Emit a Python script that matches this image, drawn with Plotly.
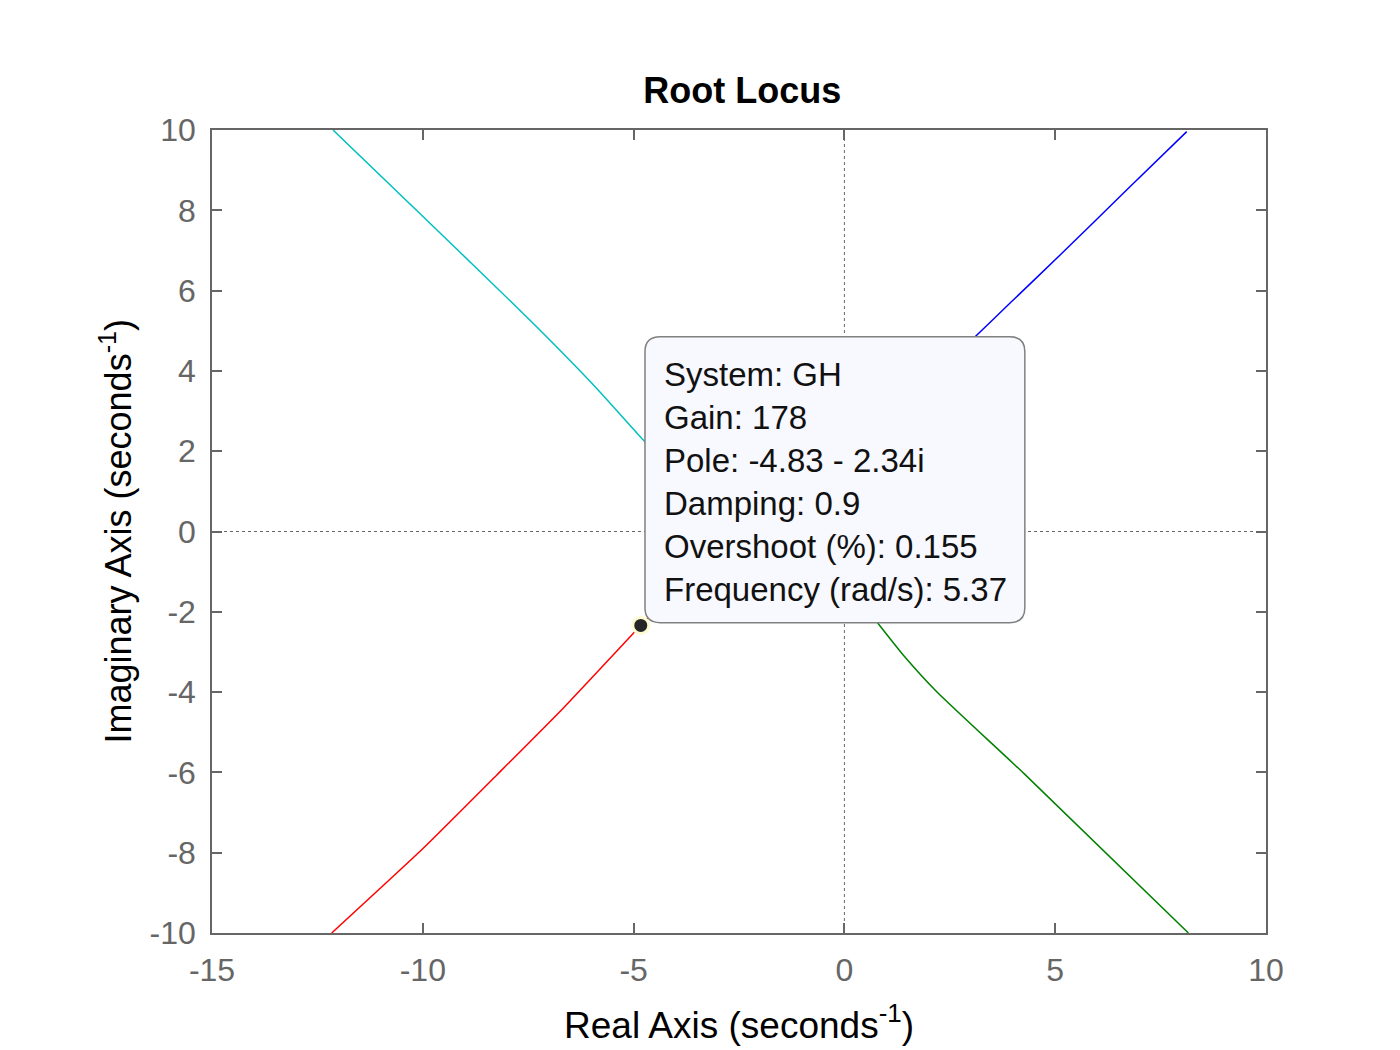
import plotly.graph_objects as go

# ---- data (root-locus branches) ----
cyan_re = [-12.13, -9.99, -8.56, -7.30, -5.88, -4.77, -4.55]
cyan_im = [10.0, 7.84, 6.39, 5.10, 3.57, 2.28, 2.05]

red_re = [-12.16, -9.99, -8.25, -6.67, -5.01, -4.83, -4.60]
red_im = [-10.0, -7.89, -6.07, -4.40, -2.54, -2.34, -2.10]

blue_re = [8.12, 6.70, 5.11, 3.93, 3.10, 2.90]
blue_im = [9.96, 8.51, 6.88, 5.69, 4.85, 4.64]

green_re = [8.16, 4.28, 2.19, 1.40, 0.77, 0.60]
green_im = [-10.0, -6.05, -3.99, -3.08, -2.25, -2.02]

# selected pole (data tip)
pole_re = [-4.83]
pole_im = [-2.34]
system_name = "GH"
gain = 178
damping = 0.9
overshoot = 0.155
frequency = 5.37

x_ticks = [-15, -10, -5, 0, 5, 10]
y_ticks = [-10, -8, -6, -4, -2, 0, 2, 4, 6, 8, 10]

FONT = "Liberation Sans, Arial, Helvetica, sans-serif"
AX = "#666666"

fig = go.Figure()
for xs, ys, col in [(cyan_re, cyan_im, "#00BFBF"), (red_re, red_im, "#FF0000"),
                    (blue_re, blue_im, "#0000FF"), (green_re, green_im, "#008000")]:
    fig.add_trace(go.Scatter(x=xs, y=ys, mode="lines",
                             line=dict(color=col, width=1.5, shape="spline", smoothing=0.5),
                             hoverinfo="skip", showlegend=False))

fig.add_trace(go.Scatter(x=pole_re, y=pole_im, mode="markers",
                         marker=dict(color="#262626", size=16,
                                     line=dict(color="#FFFBD0", width=3)),
                         hoverinfo="skip", showlegend=False))

# dotted zero lines
fig.add_shape(type="line", x0=0, x1=0, y0=-10, y1=10, xref="x", yref="y",
              line=dict(color="#666666", width=1, dash="dot"), layer="below")
fig.add_shape(type="line", x0=-15, x1=10, y0=0, y1=0, xref="x", yref="y",
              line=dict(color="#666666", width=1, dash="dot"), layer="below")

# data tip box (rounded rectangle)
bx0, bx1, by0, by1 = -4.73, 4.28, -2.27, 4.85
rx, ry = 0.36, 0.37
path = (f"M {bx0+rx},{by1} L {bx1-rx},{by1} Q {bx1},{by1} {bx1},{by1-ry} "
        f"L {bx1},{by0+ry} Q {bx1},{by0} {bx1-rx},{by0} "
        f"L {bx0+rx},{by0} Q {bx0},{by0} {bx0},{by0+ry} "
        f"L {bx0},{by1-ry} Q {bx0},{by1} {bx0+rx},{by1} Z")
fig.add_shape(type="path", path=path, xref="x", yref="y",
              fillcolor="#F8F8FF", line=dict(color="#808080", width=1.5),
              layer="above")

im_sign = "-" if pole_im[0] < 0 else "+"
tip_lines = [
    f"System: {system_name}",
    f"Gain: {gain}",
    f"Pole: {pole_re[0]:.2f} {im_sign} {abs(pole_im[0]):.2f}i",
    f"Damping: {damping}",
    f"Overshoot (%): {overshoot}",
    f"Frequency (rad/s): {frequency}",
]
fig.add_annotation(x=-4.33, y=1.23, xref="x", yref="y", text="<br>".join(tip_lines),
                   showarrow=False, xanchor="left", yanchor="middle", align="left",
                   font=dict(family=FONT, size=33, color="#111111"))

# axis titles
fig.add_annotation(x=0.5, y=-0.111, xref="paper", yref="paper",
                   text="Real Axis (seconds<sup>-1</sup>)", showarrow=False,
                   xanchor="center", yanchor="middle",
                   font=dict(family=FONT, size=37, color="#000000"))
fig.add_annotation(x=-0.092, y=0.5, xref="paper", yref="paper",
                   text="Imaginary Axis (seconds<sup>-1</sup>)", showarrow=False,
                   textangle=-90, xanchor="center", yanchor="middle",
                   font=dict(family=FONT, size=36, color="#000000"))

fig.update_layout(
    width=1400, height=1050,
    margin=dict(l=204, r=142, t=122, b=125),
    paper_bgcolor="white", plot_bgcolor="white",
    title=dict(text="<b>Root Locus</b>", x=0.5245, xanchor="center",
               y=0.9219, yanchor="middle",
               font=dict(family=FONT, size=36, color="#000000")),
    font=dict(family=FONT),
    xaxis=dict(range=[-15, 10], tickvals=x_ticks, ticktext=[str(v) for v in x_ticks],
               showgrid=False, zeroline=False, showline=True, linecolor=AX, linewidth=1.5,
               mirror="ticks", ticks="inside", ticklen=10, tickwidth=1.5, tickcolor=AX,
               ticklabelstandoff=8,
               tickfont=dict(family=FONT, size=32, color=AX)),
    yaxis=dict(range=[-10, 10], tickvals=y_ticks, ticktext=[str(v) for v in y_ticks],
               showgrid=False, zeroline=False, showline=True, linecolor=AX, linewidth=1.5,
               mirror="ticks", ticks="inside", ticklen=10, tickwidth=1.5, tickcolor=AX,
               ticklabelstandoff=8,
               tickfont=dict(family=FONT, size=32, color=AX)),
)

fig.write_html("out.html")
